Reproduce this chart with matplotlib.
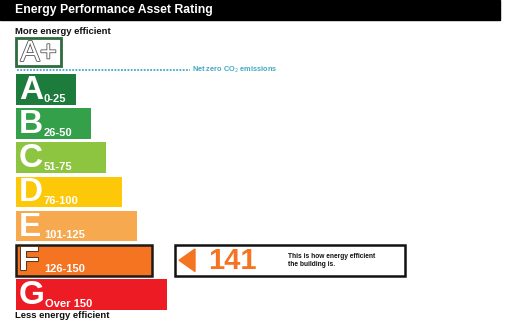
import matplotlib.pyplot as plt
from matplotlib.patches import Rectangle, Polygon
import matplotlib.patheffects as pe

plt.rcParams['font.family'] = ['Liberation Sans', 'DejaVu Sans']

# Rating bands, score ranges and band colours
bands = ['A', 'B', 'C', 'D', 'E', 'F', 'G']
ranges = ['0-25', '26-50', '51-75', '76-100', '101-125', '126-150', 'Over 150']
upper = [25, 50, 75, 100, 125, 150, None]
colors = ['#1d7b3b', '#35a04a', '#8dc540', '#fcc808', '#f6a94f', '#f47421', '#ed1c24']
rating = 141

fig = plt.figure(figsize=(5.05, 3.28), dpi=100)
ax = fig.add_axes([0, 0, 1, 1])
ax.set_xlim(0, 505)
ax.set_ylim(328, 0)
ax.axis('off')

# header
ax.add_patch(Rectangle((0, 0), 500, 20, color='black'))
ax.text(15, 10.5, 'Energy Performance Asset Rating', color='white',
        fontsize=8.8, fontweight='bold', va='center')
ax.text(15, 31, 'More energy efficient', fontsize=6.8, fontweight='bold',
        va='center', color='#111111')

# A+ box
ax.add_patch(Rectangle((16, 38), 45, 28, fill=False, ec='#2f6b3c', lw=2))
ax.text(38.5, 53, 'A+', fontsize=21, color='white', ha='center', va='center',
        path_effects=[pe.withStroke(linewidth=1.2, foreground='#555555')])

# net zero line
ax.plot([17, 190], [70, 70], ls=(0, (1, 0.8)), color='#45a8c4', lw=1.3)
ax.text(192, 70, 'Net zero CO$_2$ emissions', fontsize=5.3, color='#45a8c4',
        fontweight='bold', va='center')

# which band the rating falls in
current = next(i for i, u in enumerate(upper) if u is None or rating <= u)

y0, pitch, h = 74, 34.2, 30.5
for i, (b, r, c) in enumerate(zip(bands, ranges, colors)):
    top = y0 + i * pitch
    w = 60 + 15.2 * i
    ax.barh(top + h / 2, w, height=h, left=16, color=c,
            edgecolor='#1a1a1a' if i == current else 'none',
            lw=1.8 if i == current else 0)
    letter = ax.text(19, top + h / 2 + 1, b, fontsize=24, fontweight='bold',
                     color='white', va='center')
    if i == current:
        letter.set_path_effects([pe.withStroke(linewidth=1.5, foreground='#5a3a20')])
    ax.text(44 if b != 'G' else 45, top + h - 6, r, fontsize=8,
            fontweight='bold', color='white', va='center')

ax.text(15, 315, 'Less energy efficient', fontsize=6.8, fontweight='bold',
        va='center', color='#111111')

# rating indicator
top = y0 + current * pitch
mid = top + h / 2
ax.add_patch(Rectangle((175, top), 230, h, fill=False, ec='#111111', lw=1.8))
ax.add_patch(Polygon([(179, mid), (195, top + 4), (195, top + h - 4)],
                     color='#f47421'))
ax.text(208, mid + 1, str(rating), fontsize=21, fontweight='bold',
        color='#f47421', va='center')
ax.text(288, mid, 'This is how energy efficient\nthe building is.',
        fontsize=4.8, fontweight='bold', va='center', linespacing=1.1,
        color='#111111')

fig.savefig('out.png', dpi=100)
